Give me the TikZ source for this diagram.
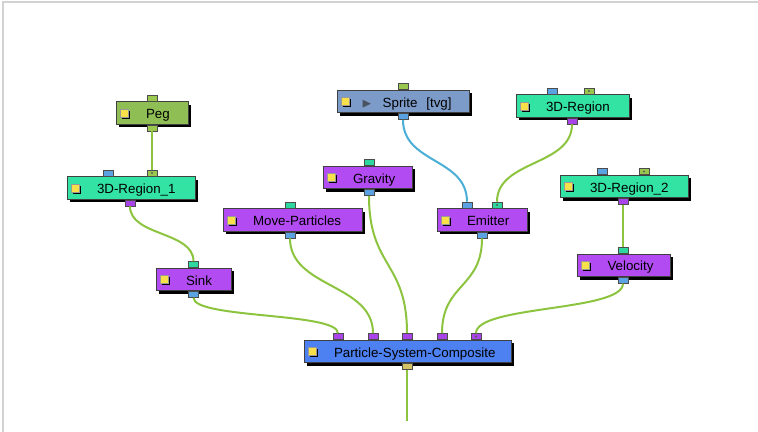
\documentclass[tikz,border=0pt]{standalone}
\usepackage{amssymb}
\usepackage{fontspec}
\setmainfont{Liberation Sans}
\usepackage{tikz}
\usetikzlibrary{calc,positioning,shadows}
\definecolor{clFrame}{HTML}{D2D2D2}
\definecolor{clPeg}{HTML}{8FBE55}
\definecolor{clDrawing}{HTML}{7D9BC8}
\definecolor{clRegion}{HTML}{33E3A4}
\definecolor{clEffect}{HTML}{B24CF2}
\definecolor{clComposite}{HTML}{4D80F0}
\definecolor{clIcon}{HTML}{F8E04A}
\definecolor{clPlay}{HTML}{4A5262}
\definecolor{clLink}{HTML}{8CC43F}
\definecolor{clWire}{HTML}{4AAED6}
\definecolor{clPortGreen}{HTML}{9AC84E}
\definecolor{clPortBlue}{HTML}{5AA2E2}
\definecolor{clPortPurple}{HTML}{A844E8}
\definecolor{clPortTeal}{HTML}{2ED6A0}
\definecolor{clPortOut}{HTML}{D6C266}
\tikzset{
  box/.style={rectangle, draw=black!75, line width=0.6pt, inner sep=0pt,
              minimum height=17pt, text height=9pt, text depth=0.5pt, align=left,
              font=\fontsize{10}{12}\selectfont, text=black,
              execute at begin node={\hspace*{22.5pt}},
              drop shadow={shadow xshift=2.2pt, shadow yshift=-2.2pt, fill=black, opacity=1},
              path picture={
                \fill[black] ([xshift=4.4pt,yshift=-4.4pt]path picture bounding box.west) rectangle ++(6pt,6pt);
                \filldraw[fill=clIcon, draw=black!40, line width=0.2pt]
                  ([xshift=3pt,yshift=-3pt]path picture bounding box.west) rectangle ++(6pt,6pt);}},
  pegbox/.style={box, fill=clPeg},
  drawingbox/.style={box, fill=clDrawing},
  regionbox/.style={box, fill=clRegion},
  effectbox/.style={box, fill=clEffect},
  compositebox/.style={box, fill=clComposite},
  port/.style={rectangle, draw=black!70, line width=0.4pt, fill=#1, inner sep=0pt,
               minimum width=7.5pt, minimum height=4.5pt},
  linked/.style={path picture={\fill[black!65] (path picture bounding box.center) circle (0.8pt);}},
  link/.style={draw=clLink, line width=1.5pt},
  wire/.style={draw=clWire, line width=1.5pt},
}
\begin{document}
\begin{tikzpicture}[x=0.75pt, y=-0.75pt]
  \useasboundingbox (0,0) rectangle (758,432);
  \draw[clFrame, line width=1.5pt] (3,432) -- (3,2) -- (758,2);
  % modules
  \node[pegbox, text width=54pt] (peg) at (152,113) {Peg};
  \node[drawingbox, text width=99pt] (sprite) at (403,101.5)
       {\hspace*{-4pt}\textcolor{clPlay}{$\blacktriangleright$}\hspace{8pt}Sprite\ \ [tvg]};
  \node[regionbox, text width=84.75pt] (region) at (572.5,106) {3D-Region};
  \node[regionbox, text width=96pt] (region1) at (131,188) {3D-Region\_1};
  \node[regionbox, text width=96pt] (region2) at (624,186.5) {3D-Region\_2};
  \node[effectbox, text width=66.75pt] (gravity) at (367.5,177.5) {Gravity};
  \node[effectbox, text width=104.25pt] (move) at (292.5,220) {Move-Particles};
  \node[effectbox, text width=67.5pt] (emitter) at (482,220) {Emitter};
  \node[effectbox, text width=69.75pt, below=41.5pt of region2] (velocity) {Velocity};
  \node[effectbox, text width=56.25pt] (sink) at (193.5,279.5) {Sink};
  \node[compositebox, text width=155.25pt] (psc) at (407.5,351.5) {Particle-System-Composite};
  % ports
  \node[port=clPortGreen, anchor=south] (peg-in) at (peg.north) {};
  \node[port=clPortGreen, anchor=north] (peg-out) at (peg.south) {};
  \node[port=clPortGreen, anchor=south] (sprite-in) at (sprite.north) {};
  \node[port=clPortBlue, anchor=north] (sprite-out) at (sprite.south) {};
  \node[port=clPortBlue, anchor=south] (region-in1) at ($(region.north)+(-20.5,0)$) {};
  \node[port=clPortGreen, linked, anchor=south] (region-in2) at ($(region.north)+(16.5,0)$) {};
  \node[port=clPortPurple, anchor=north] (region-out) at ($(region.south)+(-0.5,0)$) {};
  \node[port=clPortBlue, anchor=south] (region1-in1) at ($(region1.north)+(-23,0)$) {};
  \node[port=clPortGreen, linked, anchor=south] (region1-in2) at ($(region1.north)+(21,0)$) {};
  \node[port=clPortPurple, anchor=north] (region1-out) at ($(region1.south)+(-1,0)$) {};
  \node[port=clPortBlue, anchor=south] (region2-in1) at ($(region2.north)+(-22,0)$) {};
  \node[port=clPortGreen, linked, anchor=south] (region2-in2) at ($(region2.north)+(20,0)$) {};
  \node[port=clPortPurple, anchor=north] (region2-out) at ($(region2.south)+(-1,0)$) {};
  \node[port=clPortTeal, anchor=south] (gravity-in) at ($(gravity.north)+(1.5,0)$) {};
  \node[port=clPortBlue, anchor=north] (gravity-out) at ($(gravity.south)+(1.5,0)$) {};
  \node[port=clPortTeal, anchor=south] (move-in) at ($(move.north)+(-2.5,0)$) {};
  \node[port=clPortBlue, anchor=north] (move-out) at ($(move.south)+(-2.5,0)$) {};
  \node[port=clPortBlue, anchor=south] (emitter-in1) at ($(emitter.north)+(-15,0)$) {};
  \node[port=clPortTeal, linked, anchor=south] (emitter-in2) at ($(emitter.north)+(15,0)$) {};
  \node[port=clPortBlue, anchor=north] (emitter-out) at (emitter.south) {};
  \node[port=clPortTeal, anchor=south] (velocity-in) at ($(velocity.north)+(-1,0)$) {};
  \node[port=clPortBlue, anchor=north] (velocity-out) at ($(velocity.south)+(-1,0)$) {};
  \node[port=clPortTeal, anchor=south] (sink-in) at (sink.north) {};
  \node[port=clPortBlue, anchor=north] (sink-out) at (sink.south) {};
  \node[port=clPortPurple, anchor=south] (psc-in1) at ($(psc.north)+(-69.5,0)$) {};
  \node[port=clPortPurple, anchor=south] (psc-in2) at ($(psc.north)+(-34.5,0)$) {};
  \node[port=clPortPurple, anchor=south] (psc-in3) at ($(psc.north)+(-0.5,0)$) {};
  \node[port=clPortPurple, anchor=south] (psc-in4) at ($(psc.north)+(34.5,0)$) {};
  \node[port=clPortPurple, linked, anchor=south] (psc-in5) at ($(psc.north)+(68.5,0)$) {};
  \node[port=clPortOut, anchor=north] (psc-out) at ($(psc.south)+(-0.5,0)$) {};
  \coordinate (out) at ($(psc-out.south)+(0,51)$);
  % connections
  \draw[link] (peg-out.south) -- (region1-in2.north);
  \draw[link] (region1-out.south) .. controls +(0,30) and +(0,-30) .. (sink-in.north);
  \draw[wire] (sprite-out.south) .. controls +(0,44) and +(0,-44) .. (emitter-in1.north);
  \draw[link] (region-out.south) .. controls +(0,42) and +(0,-42) .. (emitter-in2.north);
  \draw[link] (region2-out.south) -- (velocity-in.north);
  \draw[link] (sink-out.south) .. controls +(0,21) and +(0,-21) .. (psc-in1.north);
  \draw[link] (move-out.south) .. controls +(0,50) and +(0,-50) .. (psc-in2.north);
  \draw[link] (gravity-out.south) .. controls +(0,72) and +(0,-72) .. (psc-in3.north);
  \draw[link] (emitter-out.south) .. controls +(0,50) and +(0,-50) .. (psc-in4.north);
  \draw[link] (velocity-out.south) .. controls +(0,28) and +(0,-28) .. (psc-in5.north);
  \draw[link] (psc-out.south) -- (out);
\end{tikzpicture}
\end{document}
